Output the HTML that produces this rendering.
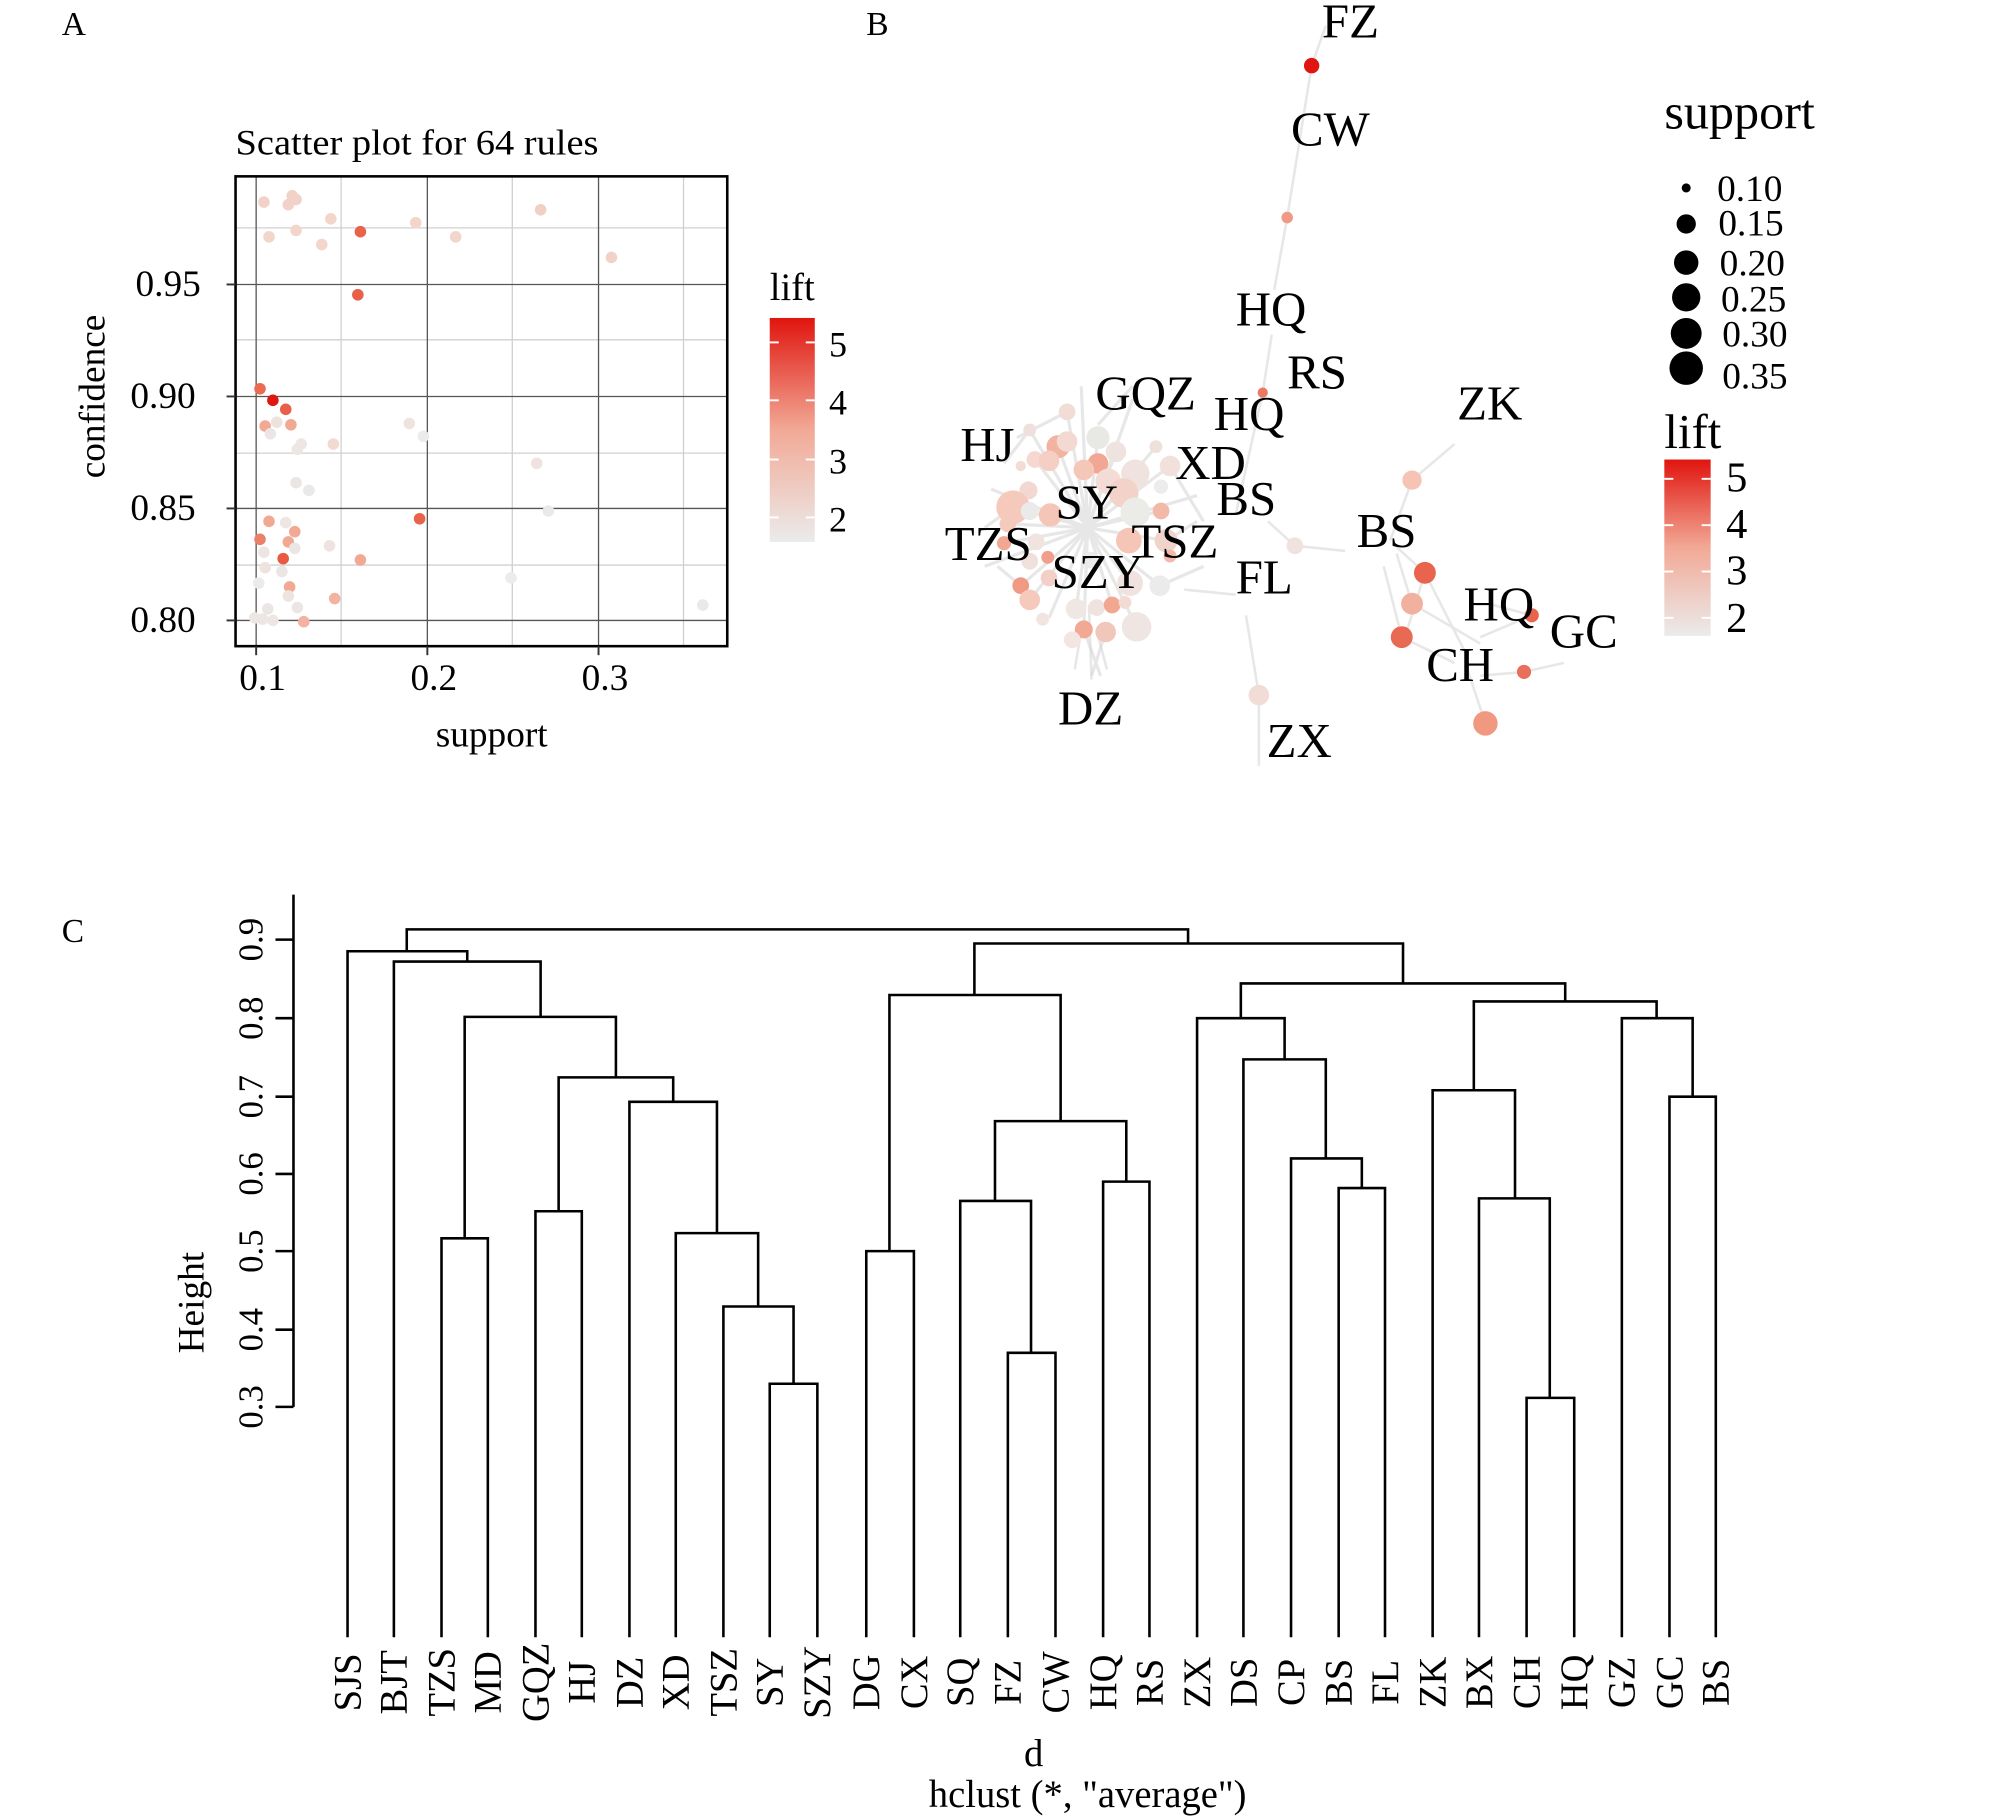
<!DOCTYPE html>
<html><head><meta charset="utf-8"><style>
html,body{margin:0;padding:0;background:#fff;}
svg{display:block;}
text{font-family:"Liberation Serif",serif;fill:#000;}
</style></head><body>
<svg width="2008" height="1817" viewBox="0 0 1560 1411.6" xmlns="http://www.w3.org/2000/svg">
<defs>
<linearGradient id="lg" x1="0" y1="1" x2="0" y2="0">
<stop offset="0" stop-color="#ebebeb"/><stop offset="0.5" stop-color="#f2a996"/><stop offset="1" stop-color="#e0150f"/>
</linearGradient>
</defs>
<rect width="1560" height="1411.6" fill="#fff"/>
<text x="48" y="27" font-size="26">A</text>
<text x="673" y="27" font-size="26">B</text>
<text x="48" y="732" font-size="26">C</text>

<!-- Panel A -->
<text x="183" y="120" font-size="28" textLength="282" lengthAdjust="spacingAndGlyphs">Scatter plot for 64 rules</text>
<g stroke="#d0d0d0" stroke-width="1">
<line x1="265" y1="137" x2="265" y2="502"/><line x1="398" y1="137" x2="398" y2="502"/><line x1="531" y1="137" x2="531" y2="502"/>
<line x1="183" y1="177" x2="565" y2="177"/><line x1="183" y1="264" x2="565" y2="264"/><line x1="183" y1="352" x2="565" y2="352"/><line x1="183" y1="439" x2="565" y2="439"/>
</g>
<g stroke="#555" stroke-width="1">
<line x1="199" y1="137" x2="199" y2="502"/><line x1="332" y1="137" x2="332" y2="502"/><line x1="465" y1="137" x2="465" y2="502"/>
<line x1="183" y1="221" x2="565" y2="221"/><line x1="183" y1="308" x2="565" y2="308"/><line x1="183" y1="395" x2="565" y2="395"/><line x1="183" y1="482" x2="565" y2="482"/>
</g>
<g>
<circle cx="205" cy="157" r="4.5" fill="#f2d2c8"/><circle cx="227" cy="152" r="4.5" fill="#f2d2c8"/><circle cx="230" cy="155" r="4.5" fill="#f2d2c8"/><circle cx="224" cy="159" r="4.5" fill="#f2d2c8"/>
<circle cx="209" cy="184" r="4.5" fill="#f2d6cc"/><circle cx="230" cy="179" r="4.5" fill="#f2d6cc"/><circle cx="250" cy="190" r="4.5" fill="#f2d6cc"/><circle cx="257" cy="170" r="4.5" fill="#f2d6cc"/>
<circle cx="280" cy="180" r="4.5" fill="#e8634a"/><circle cx="323" cy="173" r="4.5" fill="#f2d6cc"/><circle cx="354" cy="184" r="4.5" fill="#f2d6cc"/><circle cx="420" cy="163" r="4.5" fill="#f2cfc3"/>
<circle cx="475" cy="200" r="4.5" fill="#f2d2c8"/><circle cx="278" cy="229" r="4.5" fill="#e8604a"/><circle cx="202" cy="302" r="4.5" fill="#ea6b52"/><circle cx="212" cy="311" r="4.5" fill="#dc1810"/>
<circle cx="222" cy="318" r="4.5" fill="#e8604a"/><circle cx="215" cy="328" r="4.5" fill="#eee2de"/><circle cx="206" cy="331" r="4.5" fill="#f2a994"/><circle cx="210" cy="337" r="4.5" fill="#ebe6e4"/>
<circle cx="226" cy="330" r="4.5" fill="#f2a994"/><circle cx="234" cy="345" r="4.5" fill="#eee6e4"/><circle cx="231" cy="349" r="4.5" fill="#eee6e4"/><circle cx="259" cy="345" r="4.5" fill="#f2d9d1"/>
<circle cx="318" cy="329" r="4.5" fill="#eee3df"/><circle cx="329" cy="339" r="4.5" fill="#ebebeb"/><circle cx="417" cy="360" r="4.5" fill="#eee3df"/><circle cx="230" cy="375" r="4.5" fill="#ebe6e4"/>
<circle cx="240" cy="381" r="4.5" fill="#e9e9e9"/><circle cx="426" cy="397" r="4.5" fill="#e9e9e9"/><circle cx="209" cy="405" r="4.5" fill="#f2a994"/><circle cx="222" cy="406" r="4.5" fill="#eee6e4"/>
<circle cx="229" cy="413" r="4.5" fill="#f2a994"/><circle cx="202" cy="419" r="4.5" fill="#ec8067"/><circle cx="224" cy="421" r="4.5" fill="#f2a994"/><circle cx="229" cy="426" r="4.5" fill="#ebe6e4"/>
<circle cx="205" cy="429" r="4.5" fill="#ebe6e4"/><circle cx="256" cy="424" r="4.5" fill="#eee3df"/><circle cx="326" cy="403" r="4.5" fill="#e8634a"/><circle cx="220" cy="434" r="4.5" fill="#e85a42"/>
<circle cx="280" cy="435" r="4.5" fill="#f2a994"/><circle cx="206" cy="441" r="4.5" fill="#eee3df"/><circle cx="219" cy="444" r="4.5" fill="#ebe6e4"/><circle cx="201" cy="453" r="4.5" fill="#ebebeb"/>
<circle cx="225" cy="456" r="4.5" fill="#f2a994"/><circle cx="224" cy="463" r="4.5" fill="#eee3df"/><circle cx="260" cy="465" r="4.5" fill="#f2b3a1"/><circle cx="397" cy="449" r="4.5" fill="#ebebeb"/>
<circle cx="208" cy="473" r="4.5" fill="#ebe6e4"/><circle cx="231" cy="472" r="4.5" fill="#ebe6e4"/><circle cx="198" cy="480" r="4.5" fill="#eee6e4"/><circle cx="204" cy="481" r="4.5" fill="#eee6e4"/>
<circle cx="212" cy="482" r="4.5" fill="#eee6e4"/><circle cx="236" cy="483" r="4.5" fill="#f2b3a1"/><circle cx="546" cy="470" r="4.5" fill="#e9e9e9"/>
</g>
<rect x="183" y="137" width="382" height="365" fill="none" stroke="#000" stroke-width="2"/>
<g stroke="#333" stroke-width="1.5">
<line x1="176" y1="221" x2="183" y2="221"/><line x1="176" y1="308" x2="183" y2="308"/><line x1="176" y1="395" x2="183" y2="395"/><line x1="176" y1="482" x2="183" y2="482"/>
<line x1="199" y1="502" x2="199" y2="509"/><line x1="332" y1="502" x2="332" y2="509"/><line x1="465" y1="502" x2="465" y2="509"/>
</g>
<g font-size="29" text-anchor="end">
<text x="156" y="230">0.95</text><text x="152" y="317">0.90</text><text x="152" y="404">0.85</text><text x="152" y="491">0.80</text>
</g>
<g font-size="29" text-anchor="middle">
<text x="204" y="536">0.1</text><text x="337" y="536">0.2</text><text x="470" y="536">0.3</text>
<text x="382" y="580">support</text>
</g>
<text transform="translate(81,308) rotate(-90)" font-size="29" text-anchor="middle">confidence</text>
<text x="598" y="233" font-size="30">lift</text>
<rect x="598" y="247" width="35" height="174" fill="url(#lg)"/>
<g stroke="#fff" stroke-width="1.5">
<line x1="598" y1="266" x2="605" y2="266"/><line x1="626" y1="266" x2="633" y2="266"/>
<line x1="598" y1="311" x2="605" y2="311"/><line x1="626" y1="311" x2="633" y2="311"/>
<line x1="598" y1="357" x2="605" y2="357"/><line x1="626" y1="357" x2="633" y2="357"/>
<line x1="598" y1="402" x2="605" y2="402"/><line x1="626" y1="402" x2="633" y2="402"/>
</g>
<g font-size="28"><text x="644" y="277">5</text><text x="644" y="322">4</text><text x="644" y="368">3</text><text x="644" y="413">2</text></g>

<!-- Panel B edges -->
<g stroke="#e2e2e2" stroke-width="2" opacity="0.8" fill="none">
<line x1="1019" y1="51" x2="1030" y2="20"/><line x1="1019" y1="51" x2="1000" y2="169"/><line x1="1000" y1="169" x2="990" y2="225"/>
<line x1="988" y1="260" x2="981" y2="305"/><line x1="981" y1="305" x2="960" y2="400"/><line x1="1130" y1="345" x2="1097" y2="373"/>
<line x1="1097" y1="373" x2="1080" y2="420"/><line x1="978" y1="595" x2="978" y2="540"/><line x1="978" y1="540" x2="968" y2="478"/>
<line x1="1006" y1="424" x2="1045" y2="428"/><line x1="1006" y1="424" x2="985" y2="405"/><line x1="960" y1="462" x2="920" y2="458"/>
<line x1="1107" y1="445" x2="1085" y2="425"/><line x1="1097" y1="469" x2="1085" y2="430"/><line x1="1089" y1="495" x2="1075" y2="440"/>
<line x1="1097" y1="469" x2="1150" y2="500"/><line x1="1107" y1="445" x2="1140" y2="510"/><line x1="1089" y1="495" x2="1130" y2="515"/>
<line x1="1154" y1="562" x2="1140" y2="520"/><line x1="1184" y1="522" x2="1150" y2="525"/><line x1="1190" y1="478" x2="1150" y2="495"/>
<line x1="1184" y1="522" x2="1215" y2="515"/><line x1="1190" y1="478" x2="1160" y2="470"/><line x1="1107" y1="445" x2="1090" y2="500"/>
<line x1="835" y1="520" x2="840" y2="490"/><line x1="860" y1="520" x2="852" y2="490"/><line x1="848" y1="528" x2="846" y2="470"/>
</g>
<g stroke="#d8d8d8" stroke-width="2.5" opacity="0.6">
<line x1="845" y1="410" x2="800" y2="334"/><line x1="845" y1="410" x2="822" y2="347"/><line x1="845" y1="410" x2="804" y2="357"/><line x1="845" y1="410" x2="829" y2="320"/>
<line x1="845" y1="410" x2="853" y2="340"/><line x1="845" y1="410" x2="867" y2="351"/><line x1="845" y1="410" x2="882" y2="368"/><line x1="845" y1="410" x2="898" y2="347"/>
<line x1="845" y1="410" x2="909" y2="362"/><line x1="845" y1="410" x2="787" y2="394"/><line x1="845" y1="410" x2="770" y2="380"/><line x1="845" y1="410" x2="783" y2="407"/>
<line x1="845" y1="410" x2="780" y2="422"/><line x1="845" y1="410" x2="793" y2="455"/><line x1="845" y1="410" x2="800" y2="466"/><line x1="845" y1="410" x2="836" y2="473"/>
<line x1="845" y1="410" x2="864" y2="470"/><line x1="845" y1="410" x2="878" y2="453"/><line x1="845" y1="410" x2="901" y2="455"/><line x1="845" y1="410" x2="906" y2="420"/>
<line x1="845" y1="410" x2="902" y2="397"/><line x1="845" y1="410" x2="930" y2="385"/><line x1="845" y1="410" x2="842" y2="489"/><line x1="845" y1="410" x2="883" y2="487"/>
<line x1="845" y1="410" x2="765" y2="440"/><line x1="845" y1="410" x2="840" y2="300"/><line x1="845" y1="410" x2="880" y2="310"/><line x1="845" y1="410" x2="815" y2="480"/>
<line x1="829" y1="320" x2="790" y2="340"/><line x1="853" y1="330" x2="880" y2="300"/><line x1="800" y1="334" x2="780" y2="360"/><line x1="909" y1="362" x2="935" y2="405"/>
<line x1="787" y1="394" x2="765" y2="410"/><line x1="793" y1="455" x2="775" y2="440"/><line x1="842" y1="489" x2="855" y2="525"/><line x1="859" y1="491" x2="848" y2="525"/>
<line x1="906" y1="420" x2="930" y2="405"/><line x1="901" y1="455" x2="935" y2="440"/>
</g>
<g>
<circle cx="800" cy="334" r="5" fill="#eee0dc"/><circle cx="822" cy="347" r="9" fill="#f2b3a3"/><circle cx="804" cy="357" r="6.5" fill="#f5d8d0"/>
<circle cx="815" cy="358" r="8" fill="#f5cfc3"/><circle cx="793" cy="362" r="4" fill="#f2dcd5"/><circle cx="829" cy="343" r="8" fill="#f2dad3"/>
<circle cx="853" cy="340" r="9" fill="#e8e8e4"/><circle cx="867" cy="351" r="8" fill="#eee3df"/><circle cx="829" cy="320" r="6.5" fill="#f2dcd6"/>
<circle cx="853" cy="360" r="8" fill="#f2a795"/><circle cx="842" cy="365" r="8" fill="#f5c7b8"/><circle cx="882" cy="368" r="11" fill="#f0e2de"/>
<circle cx="861" cy="374" r="10" fill="#f2dcd5"/><circle cx="898" cy="347" r="5" fill="#f0e0db"/><circle cx="902" cy="378" r="5.5" fill="#ececec"/>
<circle cx="909" cy="362" r="8" fill="#f2e0dc"/><circle cx="799" cy="381" r="7" fill="#f2d8d0"/><circle cx="787" cy="394" r="13" fill="#f5c9bb"/>
<circle cx="800" cy="397" r="7" fill="#eaeaea"/><circle cx="816" cy="400" r="9" fill="#f5c6b7"/><circle cx="873" cy="383" r="11.5" fill="#f3d3c9"/>
<circle cx="882" cy="398" r="11.5" fill="#ebebe7"/><circle cx="902" cy="397" r="6.5" fill="#f2b9a9"/><circle cx="877" cy="420" r="10" fill="#f5c6b7"/>
<circle cx="906" cy="420" r="9" fill="#f0d4cb"/><circle cx="783" cy="407" r="6.5" fill="#f5c9bb"/><circle cx="780" cy="422" r="5.5" fill="#f2a793"/>
<circle cx="805" cy="421" r="6.5" fill="#f1e4e0"/><circle cx="814" cy="433" r="5" fill="#ef9f8b"/><circle cx="800" cy="436" r="6.5" fill="#f0e0dc"/>
<circle cx="815" cy="449" r="6.5" fill="#f2d0c7"/><circle cx="793" cy="455" r="6.5" fill="#f09a85"/><circle cx="800" cy="466" r="8" fill="#f5c9bb"/>
<circle cx="810" cy="481" r="5" fill="#f2e4e1"/><circle cx="836" cy="473" r="8" fill="#efe7e4"/><circle cx="852" cy="472" r="6.5" fill="#f0e2de"/>
<circle cx="864" cy="470" r="6.5" fill="#f2a791"/><circle cx="874" cy="468" r="5" fill="#f2dbd4"/><circle cx="878" cy="453" r="10" fill="#f0e2de"/>
<circle cx="901" cy="455" r="8" fill="#ebebeb"/><circle cx="842" cy="489" r="7" fill="#f2a994"/><circle cx="859" cy="491" r="8" fill="#f2c7bb"/>
<circle cx="883" cy="487" r="11.5" fill="#efe6e3"/><circle cx="833" cy="497" r="6.5" fill="#f2e5e2"/><circle cx="909" cy="432" r="5" fill="#f2b9a9"/>
<circle cx="847" cy="435" r="6.5" fill="#eaeaea"/>
<circle cx="1019" cy="51" r="6" fill="#e0150f"/><circle cx="1000" cy="169" r="4.5" fill="#f09a85"/><circle cx="981" cy="305" r="4" fill="#ec7a62"/>
<circle cx="1097" cy="373" r="7.5" fill="#f5c4b5"/><circle cx="1107" cy="445" r="8.5" fill="#e8644c"/><circle cx="1097" cy="469" r="8.5" fill="#f2b09e"/>
<circle cx="1089" cy="495" r="8.5" fill="#e86a52"/><circle cx="1190" cy="478" r="5.5" fill="#e8644c"/><circle cx="1184" cy="522" r="5.5" fill="#e8705a"/>
<circle cx="1154" cy="562" r="9.5" fill="#f09880"/><circle cx="978" cy="540" r="8" fill="#f2ddd6"/><circle cx="1006" cy="424" r="6.5" fill="#f0e2de"/>
</g>
<g font-size="38">
<text x="1027" y="29">FZ</text><text x="1003" y="113">CW</text><text x="960" y="253">HQ</text><text x="1000" y="302">RS</text>
<text x="851" y="318">GQZ</text><text x="943" y="334">HQ</text><text x="1132" y="326">ZK</text><text x="746" y="358">HJ</text>
<text x="913" y="372">XD</text><text x="820" y="403">SY</text><text x="945" y="400">BS</text><text x="1054" y="425">BS</text>
<text x="734" y="435">TZS</text><text x="879" y="433">TSZ</text><text x="817" y="457">SZY</text><text x="960" y="461">FL</text>
<text x="1137" y="482">HQ</text><text x="1204" y="503">GC</text><text x="1108" y="529">CH</text><text x="822" y="563">DZ</text><text x="984" y="588">ZX</text>
</g>
<text x="1293" y="100" font-size="39">support</text>
<g fill="#000">
<circle cx="1310" cy="146" r="3.5"/><circle cx="1310" cy="174" r="7.5"/><circle cx="1310" cy="204" r="9.5"/>
<circle cx="1310" cy="231" r="11"/><circle cx="1310" cy="259" r="12"/><circle cx="1310" cy="286" r="13"/>
</g>
<g font-size="29">
<text x="1334" y="156">0.10</text><text x="1335" y="183">0.15</text><text x="1336" y="214">0.20</text>
<text x="1337" y="242">0.25</text><text x="1338" y="269">0.30</text><text x="1338" y="302">0.35</text>
</g>
<text x="1293" y="348" font-size="38">lift</text>
<rect x="1293" y="357" width="36" height="137" fill="url(#lg)"/>
<g stroke="#fff" stroke-width="1.5">
<line x1="1293" y1="372" x2="1300" y2="372"/><line x1="1322" y1="372" x2="1329" y2="372"/>
<line x1="1293" y1="408" x2="1300" y2="408"/><line x1="1322" y1="408" x2="1329" y2="408"/>
<line x1="1293" y1="444" x2="1300" y2="444"/><line x1="1322" y1="444" x2="1329" y2="444"/>
<line x1="1293" y1="480" x2="1300" y2="480"/><line x1="1322" y1="480" x2="1329" y2="480"/>
</g>
<g font-size="33"><text x="1341" y="382">5</text><text x="1341" y="418">4</text><text x="1341" y="454">3</text><text x="1341" y="491">2</text></g>

<!-- Panel C dendrogram -->
<g stroke="#000" stroke-width="2" fill="none">
<line x1="228" y1="695" x2="228" y2="1093"/>
<line x1="214" y1="730" x2="228" y2="730"/><line x1="214" y1="791" x2="228" y2="791"/><line x1="214" y1="852" x2="228" y2="852"/>
<line x1="214" y1="912" x2="228" y2="912"/><line x1="214" y1="972" x2="228" y2="972"/><line x1="214" y1="1033" x2="228" y2="1033"/><line x1="214" y1="1093" x2="228" y2="1093"/>
<path d="M598,1272V1075H635V1272"/>
<path d="M562,1272V1015H616.5V1075"/>
<path d="M525,1272V958H589V1015"/>
<path d="M489,1272V856H557V958"/>
<path d="M416,1272V941H452V1272"/>
<path d="M434,941V837H523V856"/>
<path d="M343,1272V962H379V1272"/>
<path d="M361,962V790H478.5V837"/>
<path d="M306,1272V747H420V790"/>
<path d="M270,1272V739H363V747"/>
<path d="M673,1272V972H710V1272"/>
<path d="M783,1272V1051H820V1272"/>
<path d="M746,1272V933H801V1051"/>
<path d="M857,1272V918H893V1272"/>
<path d="M773,933V871H875V918"/>
<path d="M691,972V773H824V871"/>
<path d="M1040,1272V923H1076V1272"/>
<path d="M1003,1272V900H1058V923"/>
<path d="M966,1272V823H1030V900"/>
<path d="M930,1272V791H998V823"/>
<path d="M1186,1272V1086H1223V1272"/>
<path d="M1149,1272V931H1204V1086"/>
<path d="M1113,1272V847H1177V931"/>
<path d="M1297,1272V852H1333V1272"/>
<path d="M1260,1272V791H1315V852"/>
<path d="M1145,847V778H1287V791"/>
<path d="M964,791V764H1216V778"/>
<path d="M757,773V733H1090V764"/>
<path d="M316,739V722H923V733"/>
</g>
<g font-size="27" text-anchor="middle">
<text transform="translate(204,730) rotate(-90)">0.9</text><text transform="translate(204,791) rotate(-90)">0.8</text>
<text transform="translate(204,852) rotate(-90)">0.7</text><text transform="translate(204,912) rotate(-90)">0.6</text>
<text transform="translate(204,972) rotate(-90)">0.5</text><text transform="translate(204,1033) rotate(-90)">0.4</text>
<text transform="translate(204,1093) rotate(-90)">0.3</text>
<text transform="translate(158,1012) rotate(-90)" font-size="29">Height</text>
</g>
<g font-size="30" text-anchor="middle">
<text transform="translate(280,1307) rotate(-90)">SJS</text><text transform="translate(316,1307) rotate(-90)">BJT</text>
<text transform="translate(353,1307) rotate(-90)">TZS</text><text transform="translate(389,1307) rotate(-90)">MD</text>
<text transform="translate(426,1307) rotate(-90)">GQZ</text><text transform="translate(462,1307) rotate(-90)">HJ</text>
<text transform="translate(499,1307) rotate(-90)">DZ</text><text transform="translate(535,1307) rotate(-90)">XD</text>
<text transform="translate(572,1307) rotate(-90)">TSZ</text><text transform="translate(608,1307) rotate(-90)">SY</text>
<text transform="translate(645,1307) rotate(-90)">SZY</text><text transform="translate(683,1307) rotate(-90)">DG</text>
<text transform="translate(720,1307) rotate(-90)">CX</text><text transform="translate(756,1307) rotate(-90)">SQ</text>
<text transform="translate(793,1307) rotate(-90)">FZ</text><text transform="translate(830,1307) rotate(-90)">CW</text>
<text transform="translate(867,1307) rotate(-90)">HQ</text><text transform="translate(903,1307) rotate(-90)">RS</text>
<text transform="translate(940,1307) rotate(-90)">ZX</text><text transform="translate(976,1307) rotate(-90)">DS</text>
<text transform="translate(1013,1307) rotate(-90)">CP</text><text transform="translate(1050,1307) rotate(-90)">BS</text>
<text transform="translate(1086,1307) rotate(-90)">FL</text><text transform="translate(1123,1307) rotate(-90)">ZK</text>
<text transform="translate(1159,1307) rotate(-90)">BX</text><text transform="translate(1196,1307) rotate(-90)">CH</text>
<text transform="translate(1233,1307) rotate(-90)">HQ</text><text transform="translate(1270,1307) rotate(-90)">GZ</text>
<text transform="translate(1307,1307) rotate(-90)">GC</text><text transform="translate(1343,1307) rotate(-90)">BS</text>
</g>
<g font-size="30" text-anchor="middle">
<text x="803" y="1372">d</text>
<text x="845" y="1404">hclust (*, "average")</text>
</g>
</svg>
</body></html>
